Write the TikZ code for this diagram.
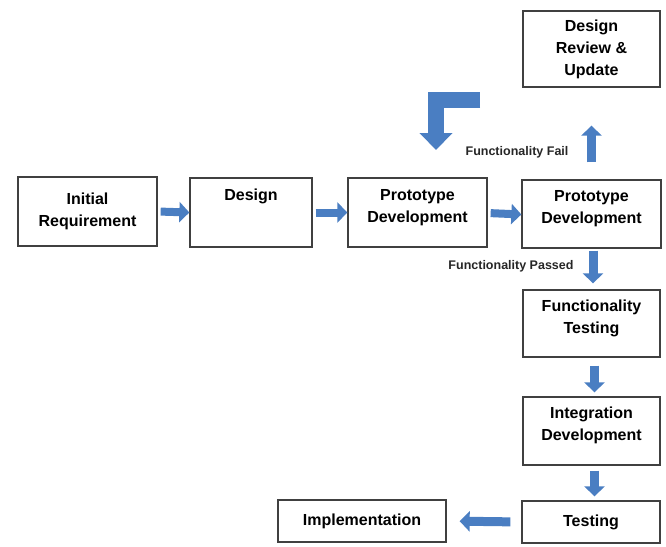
\documentclass[tikz,border=0pt]{standalone}
\usepackage{fontspec}
\setmainfont{Liberation Sans}
\usetikzlibrary{arrows.meta}
\definecolor{arrowblue}{HTML}{4A7EC2}

\begin{document}
\begin{tikzpicture}[x=1pt, y=-1pt,
		box/.style={draw=black!75, line width=1.3pt, fill=white, align=center,
			font=\fontsize{16}{22}\selectfont\bfseries, inner sep=2pt},
		blk/.style={draw=arrowblue, line width=9pt, -{Triangle[width=20pt, length=10pt]}},
		tag/.style={font=\fontsize{12.5}{14}\selectfont\bfseries, text=black!85}]
		\useasboundingbox (0,0) rectangle (666,546);
		% boxes
		\node[box, minimum width=139pt, minimum height=69pt] (ir) at (87.5,211.5) {Initial\\Requirement};
		\node[box, minimum width=122pt, minimum height=69pt] (des) at (251,212.5) {Design\\[13pt]\mbox{}};
		\node[box, minimum width=139pt, minimum height=69pt] (pda) at (417.5,212.5) {Prototype\\Development\\[-8pt]\mbox{}};
		\node[box, minimum width=139pt, minimum height=68pt] (pdb) at (591.5,214) {Prototype\\Development\\[-8pt]\mbox{}};
		\node[box, minimum width=137pt, minimum height=76pt] (dru) at (591.5,49) {Design\\Review \&\\Update};
		\node[box, minimum width=137pt, minimum height=67pt] (ft) at (591.5,323.5) {Functionality\\Testing\\[-8pt]\mbox{}};
		\node[box, minimum width=137pt, minimum height=68pt] (idv) at (591.5,431) {Integration\\Development\\[-8pt]\mbox{}};
		\node[box, minimum width=138pt, minimum height=42pt] (tst) at (591,522) {Testing};
		\node[box, minimum width=168pt, minimum height=42pt] (imp) at (362,521) {Implementation};
		% block arrows
		\draw[blk, line width=8pt, shorten <=3pt] (ir.east) -- (des.west);
		\draw[blk, line width=8pt, shorten <=3pt] (des.east) -- (pda.west);
		\draw[blk, line width=8pt, shorten <=3pt] ([yshift=-0.5]pda.east) -- ([yshift=-0.5]pdb.west);
		\draw[blk, shorten <=17pt, shorten >=38pt] (pdb.north) -- (dru.south);
		\draw[blk, shorten <=2pt, shorten >=6pt] ([xshift=1.5]pdb.south) -- ([xshift=1.5]ft.north);
		\draw[blk, shorten <=8pt, shorten >=4pt] ([xshift=3]ft.south) -- ([xshift=3]idv.north);
		\draw[blk, shorten <=5pt, shorten >=4pt] ([xshift=3]idv.south) -- ([xshift=3.5]tst.north);
		\draw[blk, shorten <=11pt, shorten >=13pt] (tst.west) -- (imp.east);
		% bent arrow back towards the design
		\coordinate (bendA) at (480,100);
		\coordinate (bendB) at (436,100);
		\coordinate (bendC) at (436,150);
		\draw[draw=arrowblue, line width=16pt, miter limit=10,
			-{Triangle[width=32pt, length=17pt]}] (bendA) -- (bendB) -- (bendC);
		% labels
		\node[tag] (fail) at (517,152) {Functionality Fail};
		\node[tag] (pass) at (511,266) {Functionality Passed};
	\end{tikzpicture}
\end{document}
